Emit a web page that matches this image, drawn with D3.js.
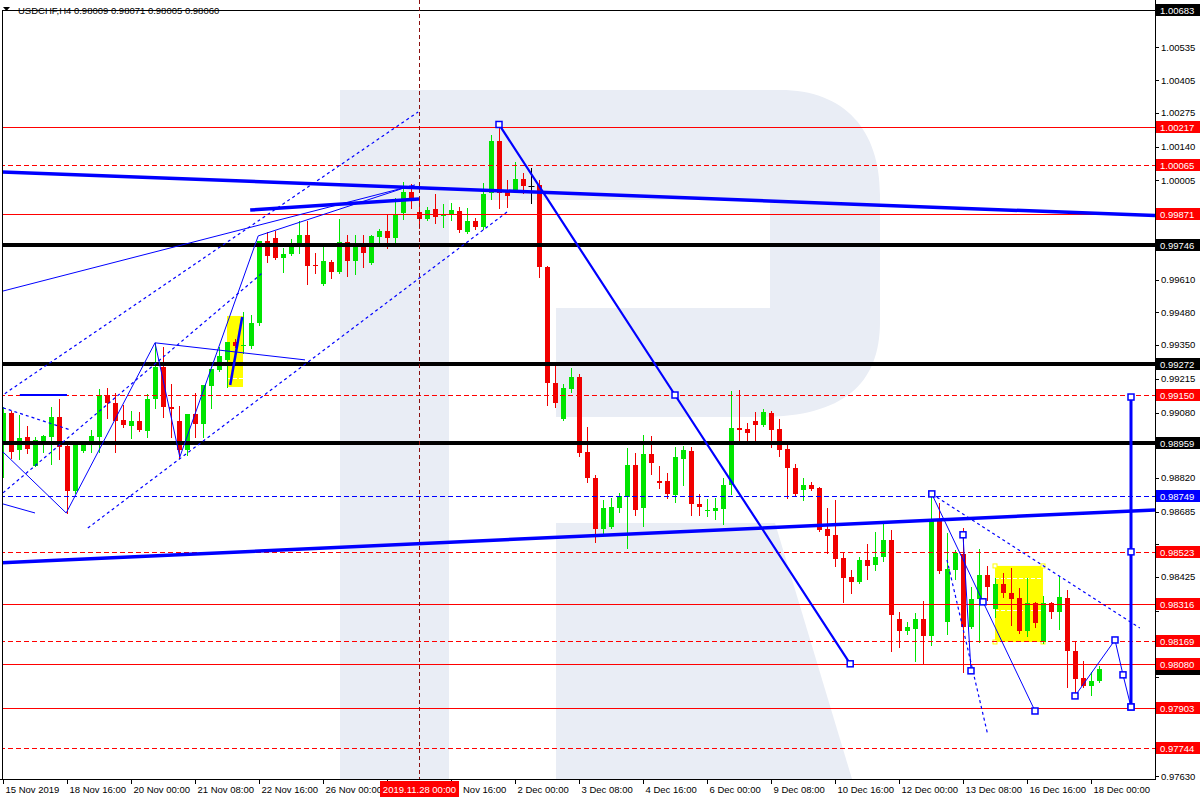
<!DOCTYPE html>
<html><head><meta charset="utf-8">
<script src="https://cdn.jsdelivr.net/npm/d3@7"></script>
<style>
body{margin:0;background:#fff;}
svg{display:block;font-family:"Liberation Sans",Arial,sans-serif;}
</style>
</head><body>
<svg id="c" width="1200" height="800"></svg>
<script>
// ---------------- DATA ----------------
const symbol = "USDCHF,H4";
const lastQuote = ["0.98009", "0.98071", "0.98005", "0.98060"];

const opens = [
0.98963,0.99078,0.98931,0.98983,0.98867,0.98959,0.98983,0.99062,0.98947,0.98768,
0.98927,0.98959,0.98983,0.99150,0.99118,0.99050,0.99026,0.99046,0.99006,0.99134,
0.99262,0.99102,0.99046,0.98931,0.99074,0.99034,0.99186,0.99250,0.99290,0.99362,
0.99346,0.99346,0.99438,0.99764,0.99776,0.99696,0.99712,0.99740,0.99788,0.99668,
0.99593,0.99680,0.99640,0.99760,0.99684,0.99740,0.99676,0.99780,0.99804,0.99776,
0.99875,0.99959,0.99879,0.99851,0.99891,0.99863,0.99867,0.99883,0.99800,0.99843,
0.99820,0.99955,1.00162,0.99959,0.99963,1.00011,0.99983,0.99987,0.99660,0.99198,
0.99054,0.99174,0.99222,0.98923,0.98820,0.98617,0.98625,0.98700,0.98744,0.98871,
0.98700,0.98915,0.98808,0.98808,0.98752,0.98895,0.98927,0.98716,0.98688,0.98688,
0.98696,0.98792,0.99018,0.99014,0.99046,0.99030,0.99078,0.99014,0.98935,0.98859,
0.98772,0.98792,0.98780,0.98617,0.98593,0.98502,0.98426,0.98406,0.98494,0.98474,
0.98506,0.98573,0.98257,0.98210,0.98217,0.98257,0.98190,0.98657,0.98245,0.98454,
0.98518,0.98225,0.98337,0.98434,0.98297,0.98398,0.98361,0.98341,0.98210,0.98321,
0.98166,0.98321,0.98285,0.98341,0.98130,0.98023,0.97991,0.98009];

const highs = [
0.99102,0.99086,0.99070,0.99026,0.98983,0.98991,0.99102,0.99134,0.98955,0.98951,
0.98955,0.99010,0.99174,0.99178,0.99158,0.99110,0.99086,0.99082,0.99154,0.99358,
0.99342,0.99194,0.99106,0.99074,0.99158,0.99190,0.99254,0.99342,0.99362,0.99374,
0.99481,0.99470,0.99764,0.99800,0.99804,0.99736,0.99772,0.99843,0.99843,0.99716,
0.99740,0.99688,0.99851,0.99788,0.99788,0.99788,0.99788,0.99812,0.99867,0.99935,
0.99999,0.99991,0.99931,0.99899,0.99951,0.99911,0.99915,0.99899,0.99895,0.99855,
0.99995,1.00186,1.00225,1.00007,1.00078,1.00034,1.00054,1.00007,0.99664,0.99266,
0.99194,0.99258,0.99234,0.99022,0.98832,0.98732,0.98740,0.98760,0.98939,0.98919,
0.98991,0.98987,0.98867,0.98840,0.98943,0.98947,0.98943,0.98756,0.98736,0.98740,
0.98820,0.99166,0.99170,0.99038,0.99082,0.99094,0.99086,0.99054,0.98967,0.98875,
0.98820,0.98804,0.98784,0.98700,0.98732,0.98526,0.98454,0.98506,0.98557,0.98605,
0.98637,0.98613,0.98285,0.98245,0.98281,0.98329,0.98756,0.98720,0.98601,0.98533,
0.98621,0.98385,0.98537,0.98470,0.98422,0.98442,0.98462,0.98381,0.98422,0.98325,
0.98349,0.98325,0.98430,0.98373,0.98166,0.98090,0.98046,0.98071];

const lows = [
0.98823,0.98899,0.98895,0.98919,0.98867,0.98923,0.98875,0.98895,0.98680,0.98760,
0.98923,0.98923,0.98923,0.99058,0.98923,0.99022,0.98979,0.99006,0.98983,0.99098,
0.99062,0.98983,0.98899,0.98911,0.98983,0.98983,0.99098,0.99246,0.99182,0.99342,
0.99318,0.99338,0.99430,0.99680,0.99692,0.99640,0.99708,0.99716,0.99593,0.99636,
0.99589,0.99617,0.99636,0.99625,0.99633,0.99660,0.99672,0.99756,0.99736,0.99752,
0.99851,0.99895,0.99816,0.99847,0.99835,0.99820,0.99847,0.99800,0.99796,0.99812,
0.99812,0.99931,0.99895,0.99899,0.99959,0.99955,0.99915,0.99621,0.99110,0.99102,
0.99050,0.99162,0.98907,0.98804,0.98565,0.98593,0.98621,0.98684,0.98541,0.98672,
0.98629,0.98836,0.98780,0.98740,0.98724,0.98792,0.98672,0.98672,0.98668,0.98656,
0.98637,0.98756,0.98967,0.98963,0.98963,0.99026,0.98943,0.98907,0.98740,0.98748,
0.98732,0.98772,0.98609,0.98521,0.98470,0.98325,0.98361,0.98402,0.98418,0.98454,
0.98490,0.98130,0.98146,0.98198,0.98090,0.98078,0.98154,0.98442,0.98198,0.98418,
0.98046,0.98221,0.98166,0.98333,0.98265,0.98345,0.98233,0.98202,0.98190,0.98225,
0.98162,0.98261,0.98217,0.97987,0.97955,0.97987,0.97955,0.98005];

const closes = [
0.99078,0.98923,0.98979,0.98935,0.98971,0.98987,0.99062,0.98943,0.98768,0.98951,
0.98951,0.98987,0.99150,0.99118,0.99046,0.99030,0.99046,0.99010,0.99134,0.99262,
0.99102,0.99094,0.98931,0.99074,0.99034,0.99190,0.99254,0.99306,0.99362,0.99346,
0.99350,0.99438,0.99764,0.99704,0.99696,0.99712,0.99740,0.99788,0.99664,0.99664,
0.99684,0.99640,0.99760,0.99684,0.99740,0.99716,0.99784,0.99804,0.99776,0.99867,
0.99959,0.99931,0.99851,0.99887,0.99859,0.99867,0.99887,0.99808,0.99843,0.99820,
0.99951,1.00162,0.99955,0.99943,1.00011,0.99983,0.99983,0.99660,0.99198,0.99118,
0.99178,0.99222,0.98919,0.98820,0.98617,0.98700,0.98704,0.98748,0.98871,0.98692,
0.98915,0.98879,0.98800,0.98756,0.98903,0.98931,0.98716,0.98704,0.98692,0.98700,
0.98792,0.99018,0.99010,0.98998,0.99030,0.99082,0.99010,0.98931,0.98859,0.98756,
0.98792,0.98776,0.98613,0.98589,0.98498,0.98422,0.98406,0.98494,0.98470,0.98506,
0.98573,0.98273,0.98210,0.98225,0.98257,0.98190,0.98657,0.98450,0.98458,0.98521,
0.98225,0.98337,0.98434,0.98385,0.98398,0.98361,0.98337,0.98210,0.98321,0.98241,
0.98321,0.98285,0.98345,0.98130,0.98019,0.97991,0.98011,0.98060];

// time axis labels (bar index -> label); the 27 Nov 08:00 tick sits under the cursor label
const timeTickIdx = [0,8,16,24,32,40,48,56,64,72,80,88,96,104,112,120,128,136];
const timeTickLabels = ["15 Nov 2019","18 Nov 16:00","20 Nov 00:00","21 Nov 08:00","22 Nov 16:00",
 "26 Nov 00:00","27 Nov 08:00","28 Nov 16:00","2 Dec 00:00","3 Dec 08:00","4 Dec 16:00",
 "6 Dec 00:00","9 Dec 08:00","10 Dec 16:00","12 Dec 00:00","13 Dec 08:00","16 Dec 16:00","18 Dec 00:00"];
const cursorIdx = 52;
const cursorLabel = "2019.11.28 00:00";

// price axis ticks
const priceTicks = [1.00670,1.00535,1.00405,1.00275,1.00140,1.00005,0.99875,0.99740,0.99610,0.99480,
 0.99350,0.99215,0.99080,0.98950,0.98820,0.98685,0.98555,0.98425,0.98290,0.98160,0.98025,0.97895,0.97760,0.97630];

// horizontal levels
const topLevel = [1.00683];
const redSolidLevels = [1.00217, 0.99871, 0.98316, 0.98080, 0.97903];
const redDashedLevels = [1.00065, 0.99150, 0.98523, 0.98169, 0.97744];
const blackLevels = [0.99746, 0.99272, 0.98959];
const blueDashedLevels = [0.98749];
const bidLevel = [0.98060];

// trend objects: [bar index, price]
const thickTrend1 = [[-0.4, 1.00039], [144, 0.99865]];
const thickTrend2 = [[30.9, 0.99887], [52, 0.99931]];
const thickTrend3 = [[-0.4, 0.98481], [144, 0.98692]];
const peakWave = [[62, 1.00228], [84, 0.99150], [105.9, 0.98079]];
const leftZigzag = [[0, 0.98923], [7.9, 0.98680], [19, 0.99358], [22.1, 0.98903], [31.9, 0.99784], [50.9, 0.99983]];
const leftFan = [[19, 0.99358], [37.75, 0.99290]];
const leftShort = [[0, 0.98716], [4, 0.98680]];
const leftThin = [[-0.4, 0.99561], [51.5, 0.99987]];
const leftFlat = [[2.1, 0.99150], [8, 0.99150]];
const dotA = [[-0.4, 0.99142], [51.9, 1.00278]];
const dotB = [[0, 0.98760], [32.4, 0.99636]];
const dotC = [[10.6, 0.98620], [63, 0.99879]];
const dotE = [[0, 0.99099], [8.4, 0.99011]];
const rightWave1 = [[116.1, 0.98756], [122.5, 0.98326], [129, 0.97891]];
const rightWave2 = [[120, 0.98593], [121, 0.98051]];
const rightDot1 = [[116.1, 0.98756], [142.1, 0.98222]];
const rightDot2 = [[118, 0.98493], [123.1, 0.97796]];
const rightWave3 = [[134, 0.97951], [139, 0.98174], [140, 0.98035], [141, 0.97907]];
const targetBar = [[141, 0.99142], [141, 0.98525], [141, 0.97907]];
const boxRight = {i0: 124, i1: 130, p0: 0.98469, p1: 0.98166, mids: [0.98421, 0.98294]};
const boxLeft = {i0: 28, i1: 30, p0: 0.99465, p1: 0.99182, mids: [0.99218]};
const boxLeftLine = [[28.4, 0.99190], [29.9, 0.99461]];

// ---------------- DRAW ----------------
const svg = d3.select("#c");
const R = 1155, B = 779;
const x = d3.scaleLinear().domain([0, 144]).range([3, 1155]);
const y = d3.scaleLinear().domain([0.97620, 1.00716]).range([779, 2]);
const yc = p => Math.round(y(p)) + 0.5;

const BULL = "#00e400", BEAR = "#f00000", BLUE = "#0000ff";

svg.append("rect").attr("width", 1200).attr("height", 800).attr("fill", "#fff");

svg.append("defs").append("clipPath").attr("id", "plot")
  .append("rect").attr("x", 2).attr("y", 0).attr("width", R - 2).attr("height", B);
const g = svg.append("g").attr("clip-path", "url(#plot)");

// watermark logo (decorative)
const logo = g.append("g").attr("fill", "#e9edf5");
logo.append("path").attr("d",
  "M340,90 H780 C845,90 880,130 880,195 V322 C880,385 842,417 760,417 H556 V308 H770 V200 H449 V779 H340 Z");
logo.append("path").attr("d", "M556,523 H775 L852,779 H556 Z");

// yellow rectangles (background objects)
[boxRight, boxLeft].forEach(b => {
  g.append("rect").attr("x", x(b.i0)).attr("y", y(b.p0))
    .attr("width", x(b.i1) - x(b.i0)).attr("height", y(b.p1) - y(b.p0)).attr("fill", "#ffff00");
  b.mids.forEach(m => g.append("line").attr("x1", x(b.i0)).attr("x2", x(b.i1))
    .attr("y1", yc(m)).attr("y2", yc(m)).attr("stroke", "#fff").attr("stroke-dasharray", "4,2"));
});
[[boxRight.i0, boxRight.p0], [boxRight.i1, boxRight.p0], [boxRight.i0, boxRight.p1], [boxRight.i1, boxRight.p1]]
  .forEach(([i, p]) => g.append("rect").attr("x", x(i) - 2).attr("y", y(p) - 2).attr("width", 4).attr("height", 4)
    .attr("fill", "#fff").attr("stroke", "#ffff00").attr("stroke-width", 1));

// candles
const idx = d3.range(opens.length);
const cg = g.append("g");
idx.forEach(i => {
  const o = opens[i], h = highs[i], l = lows[i], c = closes[i];
  const col = c > o ? BULL : (c < o ? BEAR : "#000");
  const cx = Math.round(x(i)) + 0.5;
  cg.append("line").attr("x1", cx).attr("x2", cx).attr("y1", Math.round(y(h))).attr("y2", Math.round(y(l)) + 1)
    .attr("stroke", col).attr("stroke-width", 1);
  const top = Math.round(y(Math.max(o, c))), bot = Math.round(y(Math.min(o, c)));
  if (c === o) {
    cg.append("line").attr("x1", cx - 3).attr("x2", cx + 3).attr("y1", top + 0.5).attr("y2", top + 0.5)
      .attr("stroke", col);
  } else {
    cg.append("rect").attr("x", Math.round(x(i)) - 2).attr("y", top).attr("width", 5)
      .attr("height", Math.max(1, bot - top)).attr("fill", col);
  }
});

// horizontal levels
function hline(p, color, w, dash) {
  const yy = w % 2 ? yc(p) : Math.round(y(p));
  const l = g.append("line").attr("x1", 0).attr("x2", R).attr("y1", yy).attr("y2", yy)
    .attr("stroke", color).attr("stroke-width", w);
  if (dash) l.attr("stroke-dasharray", dash);
}
topLevel.forEach(p => hline(p, "#000", 1));
redSolidLevels.forEach(p => hline(p, "#ff0000", 1));
redDashedLevels.forEach(p => hline(p, "#ff0000", 1, "5,3"));
blackLevels.forEach(p => hline(p, "#000", 4));
blueDashedLevels.forEach(p => hline(p, BLUE, 1, "5,3"));

// vertical cursor
g.append("line").attr("x1", Math.round(x(cursorIdx)) + 0.5).attr("x2", Math.round(x(cursorIdx)) + 0.5)
  .attr("y1", 0).attr("y2", B).attr("stroke", "#8a1010").attr("stroke-dasharray", "4,3");

// trend objects
const lineGen = d3.line().x(d => x(d[0])).y(d => y(d[1]));
function poly(pts, w, dash) {
  const p = g.append("path").attr("d", lineGen(pts)).attr("fill", "none").attr("stroke", BLUE).attr("stroke-width", w);
  if (dash) p.attr("stroke-dasharray", dash);
  return p;
}
function markers(pts, s) {
  pts.forEach(d => g.append("rect").attr("x", x(d[0]) - s / 2).attr("y", y(d[1]) - s / 2)
    .attr("width", s).attr("height", s).attr("fill", "#fff").attr("stroke", BLUE).attr("stroke-width", 1.5));
}
[dotA, dotB, dotC, dotE, rightDot1, rightDot2].forEach(d => poly(d, 1.2, "3,3"));
[leftZigzag, leftFan, leftShort, leftThin, rightWave1, rightWave2, rightWave3].forEach(d => poly(d, 1));
poly(leftFlat, 2);
poly(thickTrend1, 3.5);
poly(thickTrend2, 3.5);
poly(thickTrend3, 3.5);
poly(peakWave, 2.2);
poly(boxLeftLine, 2.5);
poly(targetBar, 3);
markers(peakWave, 6);
markers(rightWave1, 6);
markers(rightWave2, 6);
markers(rightWave3, 6);
markers(targetBar, 6);

// frame
svg.append("line").attr("x1", 2.5).attr("x2", 2.5).attr("y1", y(topLevel[0])).attr("y2", B).attr("stroke", "#000");
svg.append("line").attr("x1", R + 0.5).attr("x2", R + 0.5).attr("y1", 0).attr("y2", B + 1).attr("stroke", "#000");
svg.append("line").attr("x1", 0).attr("x2", R + 1).attr("y1", B + 0.5).attr("y2", B + 0.5).attr("stroke", "#000");

// title
svg.append("path").attr("d", "M3,7 H10 L6.5,11 Z").attr("fill", "#000");
svg.append("text").attr("x", 18).attr("y", 14).attr("font-size", 9.5).attr("fill", "#000")
  .text(symbol + "  " + lastQuote.join(" "));

// price axis: tick labels that would sit fully under a level box are not drawn
const boxed = topLevel.concat(redSolidLevels, redDashedLevels, blackLevels, blueDashedLevels, bidLevel);
priceTicks.forEach(p => {
  svg.append("line").attr("x1", R).attr("x2", R + 4).attr("y1", yc(p)).attr("y2", yc(p)).attr("stroke", "#000");
  const hidden = boxed.some(b => Math.abs(y(b) - y(p)) < 11);
  if (!hidden) {
    svg.append("text").attr("x", R + 6).attr("y", y(p) + 3.5).attr("font-size", 9.5).attr("fill", "#000")
      .text(p.toFixed(5));
  }
});
function priceBox(p, bg, fg, showText) {
  const yy = Math.round(y(p));
  svg.append("rect").attr("x", R + 1).attr("y", yy - 6).attr("width", 44).attr("height", 12).attr("fill", bg);
  if (showText) svg.append("text").attr("x", R + 5).attr("y", yy + 3.5).attr("font-size", 9.5).attr("fill", fg).text(p.toFixed(5));
}
bidLevel.forEach(p => priceBox(p, "#000", "#fff", false));
topLevel.forEach(p => priceBox(p, "#000", "#fff", true));
blackLevels.forEach(p => priceBox(p, "#000", "#fff", true));
blueDashedLevels.forEach(p => priceBox(p, BLUE, "#fff", true));
redSolidLevels.concat(redDashedLevels).forEach(p => priceBox(p, "#ff0000", "#fff", true));

// time axis
const cxp = Math.round(x(cursorIdx));
const boxL = cxp - 39, boxR = cxp + 40;
timeTickIdx.forEach((k, j) => {
  const tx = Math.round(x(k)) + 0.5;
  svg.append("line").attr("x1", tx).attr("x2", tx).attr("y1", B).attr("y2", B + 5).attr("stroke", "#000");
  const t = svg.append("text").attr("y", 793).attr("font-size", 9.5).attr("fill", "#000");
  if (tx > boxL - 2 && tx < cxp) {
    t.remove(); // fully under the cursor label
  } else if (tx >= cxp && tx < boxR + 4) {
    // partly under the cursor label: only the visible tail shows, as in the reference
    t.attr("x", boxR + 4).text(timeTickLabels[j].replace(/^\d+\s/, ""));
  } else {
    t.attr("x", tx + 2).text(timeTickLabels[j]);
  }
});
svg.append("rect").attr("x", boxL).attr("y", 781).attr("width", boxR - boxL).attr("height", 16).attr("fill", "#ff0000");
svg.append("text").attr("x", cxp + 0.5).attr("y", 793).attr("text-anchor", "middle").attr("font-size", 9.5)
  .attr("fill", "#fff").text(cursorLabel);
</script>
</body></html>
